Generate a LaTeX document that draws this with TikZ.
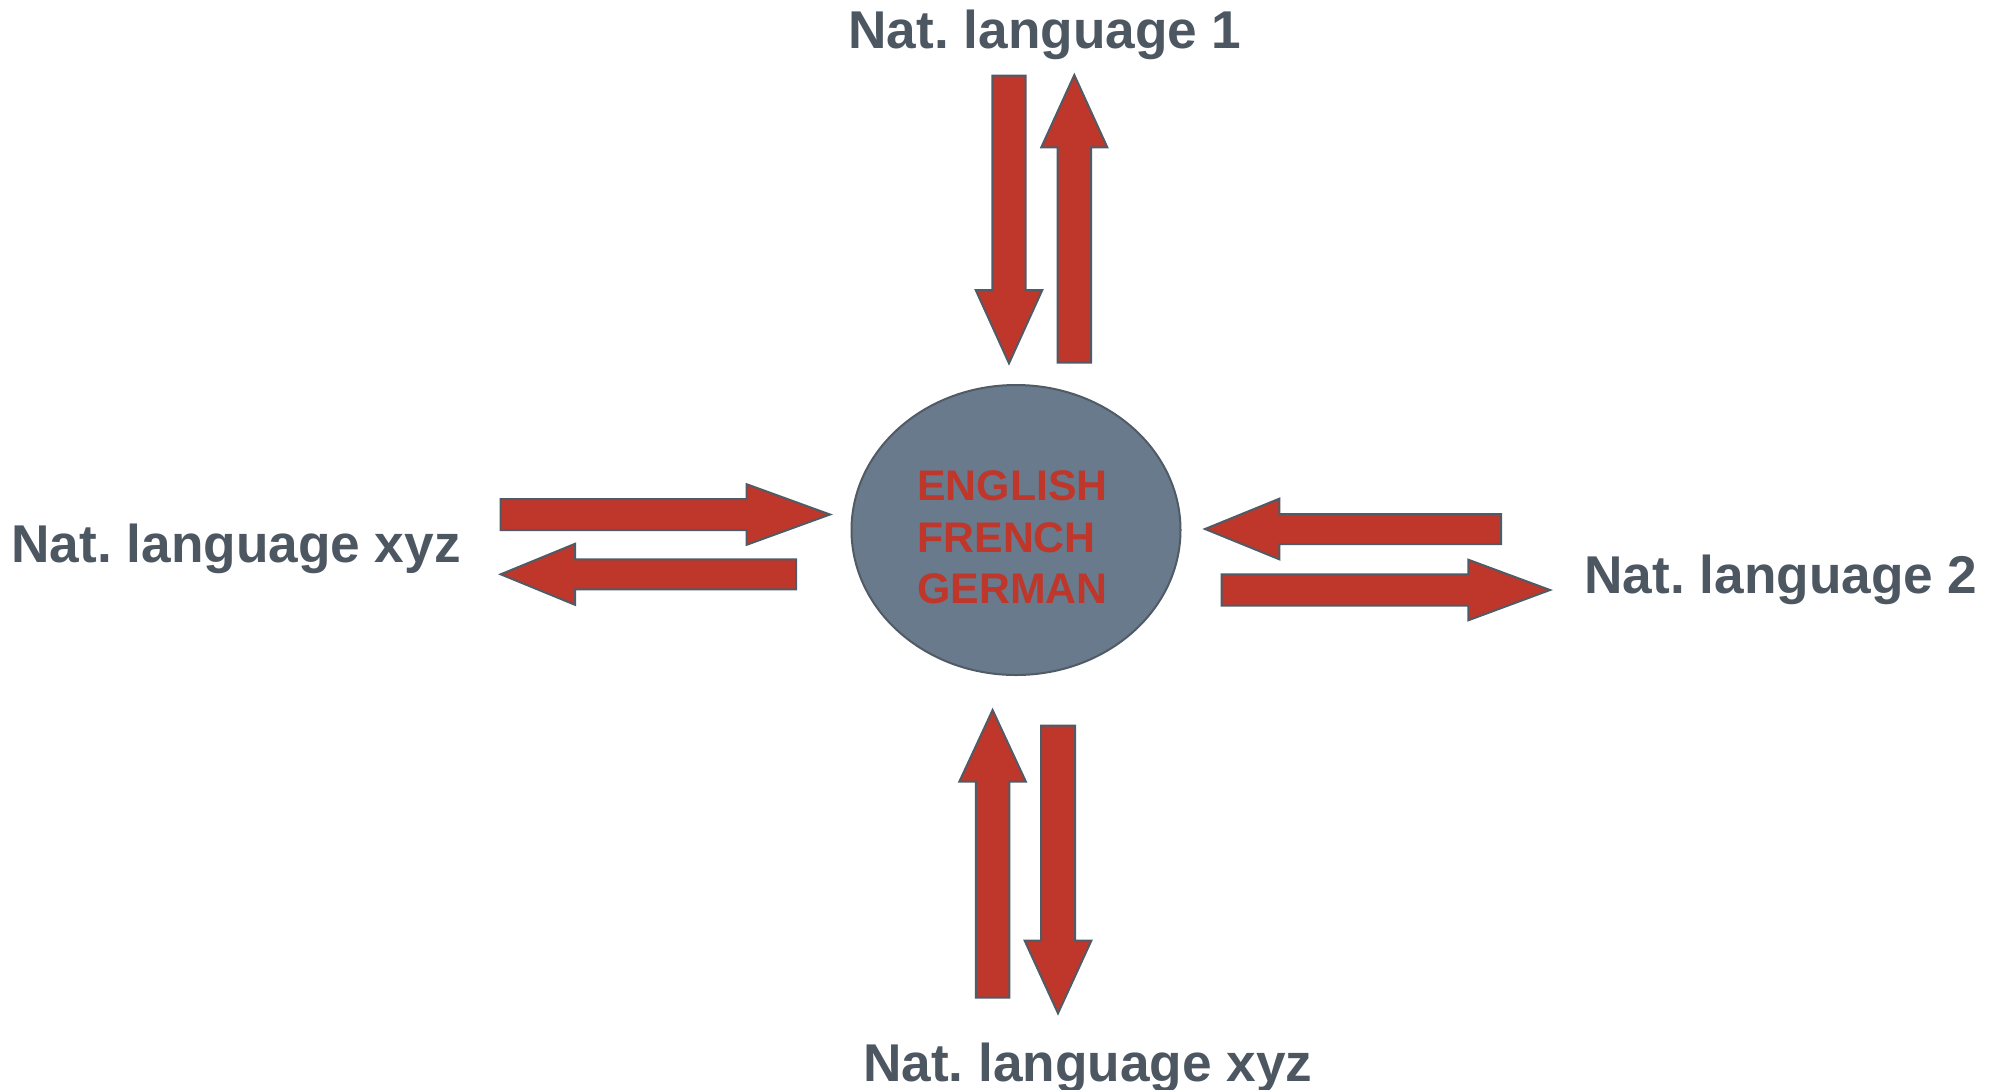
\documentclass[tikz,border=0pt]{standalone}
\usepackage{fontspec}
\setmainfont{Liberation Sans}
\usetikzlibrary{shapes.geometric}
\frenchspacing
\definecolor{arrred}{HTML}{BF372B}
\definecolor{edgegray}{HTML}{505B65}
\definecolor{txtgray}{HTML}{4D5761}
\definecolor{corefill}{HTML}{687A8C}
\tikzset{
  barrow/.style={fill=arrred, draw=edgegray, line width=1pt, line join=miter},
  lbl/.style={anchor=base west, inner sep=0pt, text=txtgray, font=\fontsize{26.6pt}{32pt}\selectfont\bfseries},
  lang/.style={anchor=base west, inner sep=0pt, text=arrred, font=\fontsize{21.4pt}{26pt}\selectfont\bfseries},
  core/.style={ellipse, fill=corefill, draw=edgegray, line width=1pt, minimum width=164.5pt, minimum height=145pt, inner sep=0pt}
}
% horizontal block arrow: tail x, center y, head base x, tip x, half shaft, half head
\newcommand{\harrow}[6]{%
  \draw[barrow] ({#1},{#2-#5}) -- ({#3},{#2-#5}) -- ({#3},{#2-#6}) -- ({#4},{#2})
    -- ({#3},{#2+#6}) -- ({#3},{#2+#5}) -- ({#1},{#2+#5}) -- cycle;}
% vertical block arrow: center x, tail y, head base y, tip y, half shaft, half head
\newcommand{\varrow}[6]{%
  \draw[barrow] ({#1-#5},{#2}) -- ({#1-#5},{#3}) -- ({#1-#6},{#3}) -- ({#1},{#4})
    -- ({#1+#6},{#3}) -- ({#1+#5},{#3}) -- ({#1+#5},{#2}) -- cycle;}
\begin{document}
\begin{tikzpicture}[x=0.5pt,y=-0.5pt]
\useasboundingbox (0,0) rectangle (2003,1089);
% centre
\node[core] (core) at (1016,530) {};
\node[lang] (en) at (917,500) {ENGLISH};
\node[lang] (fr) at (917,552.7) {FRENCH};
\node[lang] (de) at (917,603) {GERMAN};
% labels
\node[lbl] (n1) at (848,48.3) {Nat. language 1};
\node[lbl] (n2) at (1584,593.3) {Nat. language 2};
\node[lbl] (nl) at (11,562.7) {Nat. language xyz};
\node[lbl] (nb) at (862.7,1081.7) {Nat. language xyz};
% top arrows
\varrow{1009}{75.7}{290}{363.3}{16.7}{33.3}
\varrow{1074.3}{362.7}{147.3}{75}{16.7}{33}
% bottom arrows
\varrow{992.6}{997.7}{781.7}{710}{16.7}{33.3}
\varrow{1058}{725.7}{940.7}{1013.3}{17}{33.3}
% left arrows
\harrow{500.7}{514.5}{746.7}{830}{15.5}{30.3}
\harrow{796}{574.3}{575}{500.7}{15}{30.5}
% right arrows
\harrow{1501}{529}{1279.3}{1205}{15}{30.3}
\harrow{1221.7}{590}{1468.3}{1550}{15.7}{30.3}
\end{tikzpicture}
\end{document}
